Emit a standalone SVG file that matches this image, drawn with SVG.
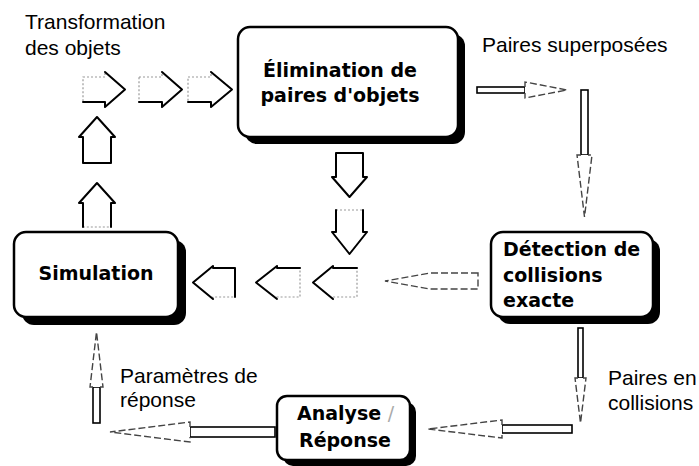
<svg xmlns="http://www.w3.org/2000/svg" width="699" height="466" viewBox="0 0 699 466">
  <style>
    .box{fill:#fff;stroke:#000;stroke-width:2.5}
    .shadow{fill:#000}
    .title{font-family:"DejaVu Sans",Verdana,sans-serif;font-weight:bold;font-size:19px;fill:#000}
    .label{font-family:"Liberation Sans",Arial,sans-serif;font-size:21px;fill:#000}
    .blk{fill:#fff;stroke:#999;stroke-width:1.2;stroke-dasharray:2 2}
    .edge{fill:none;stroke:#000;stroke-width:2;stroke-linejoin:round;stroke-linecap:round}
    .shaft{fill:#fff;stroke:#000;stroke-width:1.6}
    .head{fill:#fff;stroke:#444;stroke-width:1.4;stroke-dasharray:7 3}
  </style>
  <rect width="699" height="466" fill="#fff"/>

  <!-- nodes -->
  <g id="elimination">
    <rect class="shadow" x="245" y="34" width="220" height="110" rx="12"/>
    <rect class="box" x="238" y="27" width="220" height="110" rx="12"/>
    <text class="title" x="340" y="77" text-anchor="middle">Élimination de</text>
    <text class="title" x="340" y="102" text-anchor="middle">paires d'objets</text>
  </g>
  <g id="simulation">
    <rect class="shadow" x="22" y="240" width="164" height="85" rx="12"/>
    <rect class="box" x="14" y="232" width="164" height="85" rx="12"/>
    <text class="title" x="96" y="280" text-anchor="middle">Simulation</text>
  </g>
  <g id="detection">
    <rect class="shadow" x="498" y="239" width="162" height="85" rx="12"/>
    <rect class="box" x="491" y="232" width="162" height="85" rx="12"/>
    <text class="title" x="503" y="256">Détection de</text>
    <text class="title" x="503" y="282">collisions</text>
    <text class="title" x="503" y="307">exacte</text>
  </g>
  <g id="analyse">
    <rect class="shadow" x="283" y="402" width="133" height="64" rx="10"/>
    <rect class="box" x="277" y="396" width="133" height="64" rx="10"/>
    <text class="title" x="297" y="420">Analyse <tspan fill="#aaa" font-weight="normal">/</tspan></text>
    <text class="title" x="299" y="447">Réponse</text>
  </g>

  <!-- labels -->
  <g id="labels">
    <text class="label" x="25" y="29">Transformation</text>
    <text class="label" x="25" y="55">des objets</text>
    <text class="label" x="482" y="52">Paires superposées</text>
    <text class="label" x="120" y="383">Paramètres de</text>
    <text class="label" x="120" y="407">réponse</text>
    <text class="label" x="608" y="385">Paires en</text>
    <text class="label" x="608" y="410">collisions</text>
  </g>

  <!-- connectors -->
  <g id="connectors">
    <!-- block arrows: transformation, to the right -->
    <polygon class="blk" points="83,77 105,77 105,72 125,89.5 105,107 105,102 83,102"/>
    <polyline class="edge" points="105,72 125,89.5 105,107 105,102 83,102"/>
    <polygon class="blk" points="139,77 162,77 162,72 182,89.5 162,107 162,102 139,102"/>
    <polyline class="edge" points="162,72 182,89.5 162,107 162,102 139,102"/>
    <polygon class="blk" points="188,77 211,77 211,72 232,89.5 211,107 211,102 188,102"/>
    <polyline class="edge" points="211,72 232,89.5 211,107 211,102 188,102"/>

    <!-- block arrows: up from simulation -->
    <polygon class="blk" points="83,163 83,137 79,137 97,117 115,137 111,137 111,163"/>
    <polyline class="edge" points="83,163 83,137 79,137 97,117 115,137 111,137 111,163 83,163"/>
    <polygon class="blk" points="83,227 83,203 79,203 97,183 115,203 111,203 111,227"/>
    <polyline class="edge" points="83,227 83,203 79,203 97,183 115,203 111,203 111,227"/>

    <!-- block arrows: down from elimination -->
    <polygon class="blk" points="336,153 363,153 363,177 367,177 349.5,197 332,177 336,177"/>
    <polyline class="edge" points="336,153 363,153 363,177 367,177 349.5,197 332,177 336,177 336,153"/>
    <polygon class="blk" points="336,210 363,210 363,232 367,232 349.5,254 332,232 336,232"/>
    <polyline class="edge" points="363,210 363,232 367,232 349.5,254 332,232 336,232 336,210"/>

    <!-- block arrows: left into simulation -->
    <polygon class="blk" points="235,268 213,268 213,266 193,282.5 213,299 213,297 235,297"/>
    <polyline class="edge" points="235,297 235,268 213,268 213,266 193,282.5 213,299"/>
    <polygon class="blk" points="300,268 277,268 277,266 256,282.5 277,299 277,297 300,297"/>
    <polyline class="edge" points="300,268 277,268 277,266 256,282.5 277,299"/>
    <polygon class="blk" points="357,268 333,268 333,266 313,282.5 333,299 333,297 357,297"/>
    <polyline class="edge" points="357,268 333,268 333,266 313,282.5 333,299"/>

    <!-- thin arrows -->
    <rect class="shaft" x="477" y="87" width="48" height="6"/>
    <path class="head" d="M525,87 L525,82 L567,90 L525,98 L525,93"/>

    <rect class="shaft" x="581" y="90" width="7" height="65"/>
    <path class="head" d="M581,155 L577,155 L584.5,217 L592,155 L588,155"/>

    <path class="head" d="M478,273 L430,273 L385,281 L430,289 L478,289 Z" stroke="#777"/>

    <rect class="shaft" x="578" y="328" width="5" height="50"/>
    <path class="head" d="M578,378 L575,378 L580.5,423 L586,378 L583,378"/>

    <rect class="shaft" x="502" y="425" width="70" height="8"/>
    <path class="head" d="M502,425 L502,420 L428,429 L502,438 L502,433"/>

    <rect class="shaft" x="190" y="427" width="85" height="10"/>
    <path class="head" d="M190,427 L190,422 L110,432 L190,442 L190,437"/>

    <rect class="shaft" x="93" y="387" width="7" height="36"/>
    <path class="head" d="M93,387 L90,387 L96.5,332 L103,387 L100,387"/>
  </g>
</svg>
